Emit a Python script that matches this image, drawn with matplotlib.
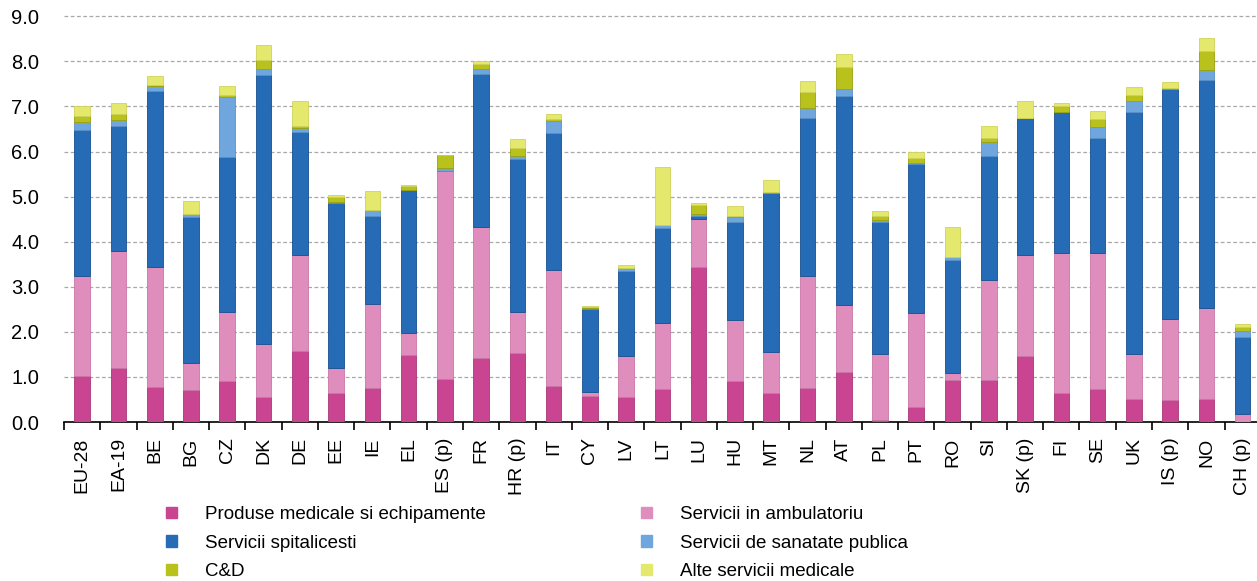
import numpy as np
import matplotlib
matplotlib.use("Agg")
import matplotlib.pyplot as plt
from matplotlib.patches import Patch

plt.rcParams['font.family'] = ['Liberation Sans', 'DejaVu Sans']

countries = ["EU-28", "EA-19", "BE", "BG", "CZ", "DK", "DE", "EE", "IE", "EL",
             "ES (p)", "FR", "HR (p)", "IT", "CY", "LV", "LT", "LU", "HU", "MT",
             "NL", "AT", "PL", "PT", "RO", "SI", "SK (p)", "FI", "SE", "UK",
             "IS (p)", "NO", "CH (p)"]

# % of GDP by function
produse = [1.01, 1.19, 0.78, 0.70, 0.90, 0.55, 1.58, 0.64, 0.75, 1.49,
           0.96, 1.43, 1.53, 0.81, 0.58, 0.55, 0.73, 3.44, 0.90, 0.64,
           0.75, 1.10, 0.05, 0.33, 0.94, 0.94, 1.46, 0.64, 0.73, 0.52,
           0.49, 0.52, 0.00]
ambulatoriu = [2.24, 2.60, 2.66, 0.61, 1.55, 1.18, 2.12, 0.55, 1.87, 0.48,
               4.60, 2.90, 0.90, 2.57, 0.09, 0.91, 1.47, 1.06, 1.36, 0.91,
               2.49, 1.49, 1.47, 2.08, 0.14, 2.20, 2.24, 3.12, 3.03, 1.00,
               1.80, 2.00, 0.18]
spital = [3.23, 2.78, 3.91, 3.23, 3.42, 5.97, 2.73, 3.66, 1.95, 3.18,
          0.00, 3.40, 3.41, 3.02, 1.84, 1.90, 2.10, 0.08, 2.17, 3.53,
          3.50, 4.63, 2.92, 3.32, 2.52, 2.75, 3.04, 3.12, 2.55, 5.35,
          5.10, 5.06, 1.70]
publica = [0.17, 0.12, 0.11, 0.07, 1.33, 0.13, 0.09, 0.02, 0.13, 0.00,
           0.07, 0.10, 0.05, 0.27, 0.02, 0.06, 0.06, 0.04, 0.11, 0.00,
           0.23, 0.17, 0.05, 0.01, 0.07, 0.33, 0.00, 0.00, 0.23, 0.24,
           0.00, 0.22, 0.13]
cd = [0.13, 0.14, 0.01, 0.00, 0.05, 0.19, 0.05, 0.11, 0.00, 0.08,
      0.30, 0.10, 0.18, 0.05, 0.02, 0.00, 0.00, 0.20, 0.02, 0.02,
      0.34, 0.48, 0.09, 0.12, 0.00, 0.09, 0.00, 0.14, 0.18, 0.14,
      0.02, 0.42, 0.09]
alte = [0.22, 0.25, 0.20, 0.30, 0.21, 0.35, 0.54, 0.06, 0.42, 0.02,
        0.00, 0.08, 0.21, 0.11, 0.03, 0.07, 1.30, 0.04, 0.24, 0.26,
        0.26, 0.29, 0.09, 0.12, 0.66, 0.26, 0.37, 0.06, 0.18, 0.17,
        0.14, 0.30, 0.07]

series = [
    ("Produse medicale si echipamente", produse, "#c94592", "#a83679"),
    ("Servicii in ambulatoriu", ambulatoriu, "#df8dbd", "#c977a6"),
    ("Servicii spitalicesti", spital, "#256bb5", "#164f91"),
    ("Servicii de sanatate publica", publica, "#6ea6dd", "#5a91c8"),
    ("C&D", cd, "#b9c11c", "#9aa20e"),
    ("Alte servicii medicale", alte, "#e4e86c", "#cfd35a"),
]

fig = plt.figure(figsize=(12.57, 5.81), dpi=100)
ax = fig.add_axes([0.051, 0.2736, 0.952, 0.700])

x = np.arange(len(countries))
bottom = np.zeros(len(countries))
for name, vals, col, edge in series:
    vals = np.array(vals)
    ax.bar(x, vals, width=0.43, bottom=bottom, color=col, edgecolor=edge,
           linewidth=0.6, zorder=3)
    bottom += vals

ax.set_xlim(-0.5, len(countries) - 0.5)
ax.set_ylim(0, 9.02)
ax.set_yticks(np.arange(0, 9.5, 1.0))
ax.set_yticklabels([f"{v:.1f}" for v in np.arange(0, 9.5, 1.0)], fontsize=14.5)
ax.yaxis.grid(True, linestyle=(0, (3, 2)), color="#a8a8a8", linewidth=0.9, zorder=0)
ax.tick_params(axis="y", length=0, pad=18)

ax.set_xticks(x)
ax.set_xticklabels(countries, rotation=90, fontsize=14)
ax.set_xticks(np.arange(-0.5, len(countries), 1.0), minor=True)
ax.tick_params(axis="x", which="major", length=0, pad=11)
ax.tick_params(axis="x", which="minor", length=6, width=1.2, direction="out")

for s in ["top", "right", "left"]:
    ax.spines[s].set_visible(False)
ax.spines["bottom"].set_linewidth(1.2)

handles = [Patch(facecolor=c, edgecolor=c) for _, _, c, _ in series]
labels = [n for n, _, _, _ in series]
# columns: left = produse, spital, C&D ; right = ambulatoriu, publica, alte
order = [0, 2, 4, 1, 3, 5]
leg = fig.legend([handles[i] for i in order], [labels[i] for i in order],
                 ncol=2, loc="upper left", bbox_to_anchor=(0.119, 0.158),
                 frameon=False, fontsize=13.5, handlelength=0.55, handleheight=0.55,
                 handletextpad=1.5, columnspacing=8.3, labelspacing=0.62)

fig.savefig("out.png", dpi=100)
